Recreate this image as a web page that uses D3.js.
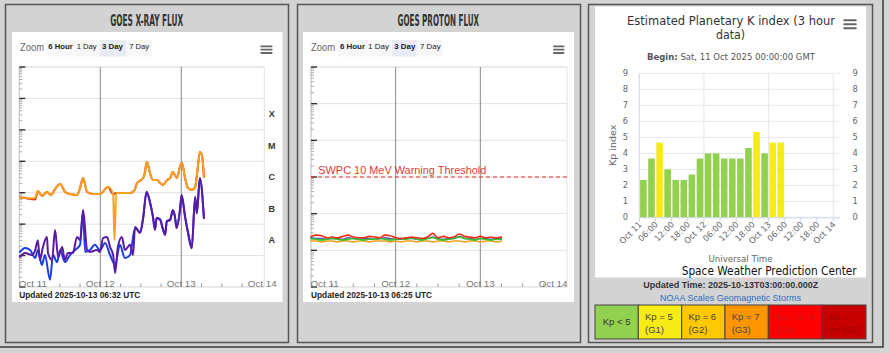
<!DOCTYPE html>
<html><head><meta charset="utf-8">
<script src="https://cdn.jsdelivr.net/npm/d3@7"></script>
<style>
html,body{margin:0;padding:0;background:#d4d4d4;overflow:hidden;}
svg{display:block;}
</style></head><body>
<svg id="c" width="890" height="353"></svg>
<script>
// ---------------- DATA ----------------
// GOES X-ray flux (W/m^2), hours since 2025-10-11 00:00 UTC
const xrayLongHours = [0.2,1.7,3.2,4.7,5.5,6.7,8.2,9.4,10.6,12.1,13.5,15.0,17.1,18.0,18.9,20.1,21.8,23.9,26.3,27.8,28.2,28.7,30.4,32.8,34.0,34.9,36.1,37.0,37.8,38.7,39.6,40.8,41.7,42.6,43.8,44.7,45.5,46.7,47.6,48.2,49.1,50.0,51.2,52.1,52.7,53.5,54.1,54.7];
const xrayLongFlux = [7.1e-7,6.9e-7,6.6e-7,6.8e-7,1.16e-6,7.9e-7,1.05e-6,8.5e-7,1.31e-6,1.89e-6,1.08e-6,9.1e-7,8.5e-7,1.41e-6,2.94e-6,1.05e-6,9.1e-7,9.1e-7,1.52e-6,9.1e-7,3.1e-8,9.8e-7,9.8e-7,9.8e-7,1.13e-6,2.04e-6,2.54e-6,3.4e-6,9.7e-6,4.24e-6,2.54e-6,2.54e-6,2.04e-6,1.76e-6,2.54e-6,2.94e-6,4.56e-6,2.94e-6,6.58e-6,8.81e-6,2.94e-6,1.41e-6,1.22e-6,1.52e-6,4.24e-6,1.97e-5,1.58e-5,3.16e-6];
const xrayLongSecondaryFlux = [7.1e-7,6.8e-7,6.3e-7,6.1e-7,1.12e-6,7.9e-7,1.05e-6,8.5e-7,1.31e-6,1.89e-6,1.08e-6,9.1e-7,8.5e-7,1.41e-6,2.94e-6,1.05e-6,9.1e-7,9.1e-7,1.52e-6,9.1e-7,9.3e-7,9.8e-7,9.8e-7,9.8e-7,1.13e-6,2.04e-6,2.54e-6,3.4e-6,9.7e-6,4.24e-6,2.54e-6,2.54e-6,2.04e-6,1.76e-6,2.54e-6,2.94e-6,4.56e-6,2.94e-6,6.58e-6,8.81e-6,2.94e-6,1.41e-6,1.22e-6,1.52e-6,4.24e-6,1.97e-5,1.58e-5,3.16e-6];
const xrayShortHours = [0.2,1.7,3.8,4.7,5.5,6.1,7.0,8.2,8.5,9.7,10.6,11.5,12.7,13.5,14.4,15.9,17.1,18.0,18.9,20.1,20.9,23.0,23.9,24.8,26.0,26.9,27.8,28.4,29.2,30.4,31.3,32.8,33.7,34.3,35.8,36.7,37.7,38.7,39.6,40.2,40.7,41.7,42.6,43.2,43.7,44.7,45.5,46.1,46.6,47.6,48.1,49.1,50.0,51.1,52.1,52.6,53.5,54.7];
const xrayShortFlux = [9.2e-9,1.21e-8,1.04e-8,1.5e-8,3.1e-8,7.2e-9,1.87e-8,3.9e-8,1.21e-8,7.2e-9,6.5e-8,9.0e-9,1.87e-8,7.2e-9,1.21e-8,1.21e-8,3.9e-8,3.1e-8,2.8e-7,1.5e-8,1.3e-8,1.5e-8,1.3e-8,3.6e-8,3.9e-8,1.87e-8,1.04e-8,2.8e-9,1.87e-8,3.9e-8,1.5e-8,2.2e-8,1.04e-8,8.1e-8,5.2e-8,1.57e-7,1.08e-6,5.2e-7,1.69e-7,6.5e-8,1.57e-7,1.36e-7,6.5e-8,4.5e-8,1.2e-7,1.36e-7,2.8e-7,1.73e-7,7.5e-8,2.8e-7,8.5e-7,1.73e-7,5.2e-8,1.7e-8,7.5e-7,2.26e-7,2.94e-6,1.57e-7];
const xrayShortSecondaryHours = [0.2,1.7,3.2,4.7,5.5,6.7,7.6,9.1,10.0,11.2,12.1,13.5,15.0,16.5,18.0,18.9,19.5,20.9,22.4,23.9,25.4,26.9,28.4,29.8,31.3,32.8,34.3,35.8,36.7,37.7,38.7,39.6,40.2,40.7,41.7,42.6,43.2,43.7,44.7,45.5,46.1,46.6,47.6,48.1,49.1,50.0,51.1,52.1,52.6,53.5,54.7];
const xrayShortSecondaryFlux = [1.3e-8,1.74e-8,1.5e-8,8.4e-9,1.5e-8,5.0e-9,1.04e-8,1.7e-9,1.04e-8,6.2e-9,1.5e-8,6.2e-9,1.04e-8,1.5e-8,2.2e-8,2.5e-7,1.3e-8,1.5e-8,2.2e-8,1.5e-8,2.5e-8,1.04e-8,5.0e-9,2.2e-8,8.4e-9,1.04e-8,7.5e-8,5.6e-8,1.6e-7,1.05e-6,5.0e-7,1.75e-7,7.0e-8,1.6e-7,1.45e-7,6.8e-8,4.8e-8,1.25e-7,1.4e-7,2.7e-7,1.8e-7,7.8e-8,2.7e-7,8.2e-7,1.8e-7,5.4e-8,1.8e-8,7.2e-7,2.2e-7,2.85e-6,1.6e-7];
const xrayClassLabels = ["A","B","C","M","X"];
const xrayClassFloor = [1e-8,1e-7,1e-6,1e-5,1e-4];

// GOES proton flux (pfu)
const protonHours = [0,1.5,3,4.5,6,7.5,9,10.5,12,13.5,15,16.5,18,19.5,21,22.5,24,25.5,27,28.5,30,31.5,33,34.5,36,37.5,39,40.5,42,43.5,45,46.5,48,49.5,51,52.5,54];
const proton10MeV = [0.24,0.26,0.25,0.22,0.23,0.22,0.24,0.26,0.23,0.22,0.22,0.24,0.23,0.22,0.26,0.25,0.22,0.21,0.22,0.23,0.22,0.21,0.23,0.29,0.22,0.24,0.22,0.23,0.28,0.24,0.23,0.22,0.24,0.22,0.23,0.22,0.23];
const proton50MeV = [0.22,0.21,0.21,0.20,0.21,0.21,0.20,0.22,0.21,0.20,0.21,0.21,0.20,0.21,0.22,0.21,0.20,0.20,0.21,0.21,0.20,0.20,0.21,0.23,0.21,0.20,0.21,0.21,0.24,0.21,0.21,0.20,0.21,0.21,0.20,0.21,0.21];
const proton100MeV = [0.21,0.20,0.19,0.20,0.21,0.20,0.19,0.20,0.21,0.20,0.19,0.20,0.20,0.21,0.20,0.19,0.20,0.21,0.20,0.22,0.20,0.19,0.21,0.22,0.20,0.19,0.20,0.21,0.23,0.21,0.20,0.19,0.21,0.20,0.19,0.20,0.20];
const proton500MeV = [0.18,0.18,0.17,0.18,0.18,0.17,0.18,0.18,0.17,0.18,0.18,0.17,0.18,0.18,0.18,0.17,0.18,0.17,0.18,0.18,0.17,0.18,0.18,0.17,0.18,0.18,0.17,0.18,0.18,0.17,0.18,0.18,0.17,0.18,0.18,0.17,0.18];
const protonThreshold = 10;

const dayLabels = ["Oct 11","Oct 12","Oct 13","Oct 14"];
const zoomButtons = ["6 Hour","1 Day","3 Day","7 Day"];

// Planetary K index (3-hour slots starting 2025-10-11 00:00 UTC)
const kpValues = [2.33,3.67,4.67,3.0,2.33,2.33,2.67,3.67,4.0,4.0,3.67,3.67,3.67,4.33,5.33,4.0,4.67,4.67];
const kpTickLabels = ["Oct 11","06:00","12:00","18:00","Oct 12","06:00","12:00","18:00","Oct 13","06:00","12:00","18:00","Oct 14"];
const kpAxisValues = [0,1,2,3,4,5,6,7,8,9];
const legendLine1 = ["Kp < 5","Kp = 5","Kp = 6","Kp = 7","Kp = 8, 9-","Kp ="];
const legendLine2 = ["","(G1)","(G2)","(G3)","(G4)","9o (G5)"];
const legendColors = ["#92d050","#f6eb14","#ffc800","#ff9600","#ff0000","#c80000"];
const legendTextColors = ["#333","#444","#444","#444","#c81818","#a00000"];

// ---------------- DRAW ----------------
const svg = d3.select("#c");
const base = Date.UTC(2025, 9, 11);
const toDate = h => new Date(base + h * 3600e3);
const SANS = "'Liberation Sans', Arial, sans-serif";

svg.append("rect").attr("x",-2).attr("y",-2).attr("width",885).attr("height",349)
  .attr("fill","#d3d3d3").attr("stroke","#3a3a3a").attr("stroke-width",1.5);

function panel(x,y,w,h){
  svg.append("rect").attr("x",x).attr("y",y).attr("width",w).attr("height",h)
    .attr("fill","#d3d3d3").attr("stroke","#555").attr("stroke-width",1.5);
}
panel(5.5,4.5,283,338);
panel(297.5,4.5,283,338);
panel(588.5,4.5,284,338);

function txt(g, x, y, s, o) {
  o = o || {};
  const t = g.append("text").attr("x",x).attr("y",y).text(s)
    .attr("font-family", o.family || SANS)
    .attr("font-size", o.size || 10)
    .attr("fill", o.fill || "#333")
    .attr("text-anchor", o.anchor || "start");
  if (o.weight) t.attr("font-weight", o.weight);
  if (o.len) t.attr("textLength", o.len).attr("lengthAdjust","spacingAndGlyphs");
  return t;
}

function hamburger(g, x, y, w, gap, th) {
  for (let i = 0; i < 3; i++)
    g.append("rect").attr("x",x).attr("y",y+i*gap).attr("width",w).attr("height",th).attr("rx",0.8).attr("fill","#666");
}

function goesChart(cfg) {
  const g = svg.append("g");
  g.append("rect").attr("x",cfg.box[0]).attr("y",cfg.box[1]).attr("width",cfg.box[2]).attr("height",cfg.box[3]).attr("fill","#fff");
  txt(g, cfg.titleX, 25.5, cfg.title, {family:"'DejaVu Sans Condensed','Liberation Sans Narrow','DejaVu Sans',sans-serif", size:16, weight:"bold", fill:"#333", anchor:"middle", len:cfg.titleW});
  // zoom buttons
  txt(g, cfg.zoomX, 51, "Zoom", {size:10.5, fill:"#666", len:24});
  g.append("rect").attr("x",cfg.btnBg[0]).attr("y",40).attr("width",cfg.btnBg[1]).attr("height",16.5).attr("fill","#f7f7f7");
  g.append("rect").attr("x",cfg.btnHi[0]).attr("y",40).attr("width",cfg.btnHi[1]).attr("height",16.5).attr("fill","#e6ebf5");
  zoomButtons.forEach((b,i) => {
    txt(g, cfg.btnX[i], 48.6, b, {size:7.5, fill:"#222", weight:(i===0||i===2)?"bold":"normal", len:cfg.btnW[i]});
  });
  hamburger(g, cfg.hamX, 45.5, cfg.hamW, 3.3, 1.8);

  const x = d3.scaleUtc().domain([toDate(0), toDate(72)]).range([cfg.left, cfg.xEnd]);
  const y = d3.scaleLog().domain(cfg.yDomain).range([287, 67]);
  const right = cfg.right;

  g.append("rect").attr("x",cfg.left).attr("y",67).attr("width",right-cfg.left).attr("height",220)
    .attr("fill","none").attr("stroke","#e3e3e3").attr("stroke-width",1);
  const decades = d3.range(Math.log10(cfg.yDomain[0]), Math.log10(cfg.yDomain[1]) + 1).map(k => Math.pow(10,k));
  g.selectAll(null).data(decades).join("line")
    .attr("x1",cfg.left).attr("x2",right).attr("y1",d=>y(d)).attr("y2",d=>y(d))
    .attr("stroke","#e2e2e2").attr("stroke-width",1);
  g.selectAll(null).data([1,2]).join("line")
    .attr("x1",d=>x(toDate(24*d))).attr("x2",d=>x(toDate(24*d))).attr("y1",67).attr("y2",287)
    .attr("stroke","#888").attr("stroke-width",1);
  g.append("line").attr("x1",cfg.left).attr("x2",cfg.left).attr("y1",67).attr("y2",287).attr("stroke","#c8c8c8");
  const minor = [];
  decades.slice(0,-1).forEach(d => { for (let m=2;m<=9;m++) minor.push(d*m); });
  g.selectAll(null).data(minor).join("line")
    .attr("x1",cfg.left).attr("x2",cfg.left+3).attr("y1",d=>y(d)).attr("y2",d=>y(d))
    .attr("stroke","#9a9a9a").attr("stroke-width",0.8);
  g.selectAll(null).data(decades).join("line")
    .attr("x1",cfg.left).attr("x2",cfg.left+6).attr("y1",d=>y(d)).attr("y2",d=>y(d))
    .attr("stroke","#333").attr("stroke-width",1.4);
  const six = x.ticks(d3.utcHour.every(6)).filter(d => d.getUTCHours() !== 0);
  g.selectAll(null).data(six).join("line")
    .attr("x1",d=>x(d)).attr("x2",d=>x(d)).attr("y1",283.5).attr("y2",287)
    .attr("stroke","#999").attr("stroke-width",1);
  dayLabels.forEach((s,i) => {
    let xx = x(toDate(24*i)), anchor = "middle";
    if (i === 0) { xx = cfg.left - 0.5; anchor = "start"; }
    if (i === 3 && cfg.lastEnd) { xx = right + 0.5; anchor = "end"; }
    txt(g, xx, 287, s, {size:9.8, fill:"#777", anchor});
  });
  txt(g, cfg.left, 297.5, cfg.updated, {size:8.5, weight:"bold", fill:"#222", len:121});
  return {g, x, y};
}

// ---- X-ray ----
const xr = goesChart({
  box:[12,32,270.5,270], title:"GOES X-RAY FLUX", titleX:146.7, titleW:73,
  zoomX:20, btnBg:[46.5,105.5], btnHi:[100,26], btnX:[48.3,76.7,102,129.2], btnW:[24.4,20,21,20],
  hamX:260.3, hamW:12.3, left:19.3, xEnd:262.3, right:264.3, yDomain:[1e-9,1e-2],
  updated:"Updated 2025-10-13 06:32 UTC", lastEnd:false
});
xrayClassLabels.forEach((c,i) => {
  txt(xr.g, 271.8, xr.y(xrayClassFloor[i]*Math.sqrt(10)) + 3.3, c, {size:9, weight:"bold", fill:"#333", anchor:"middle"});
});
function series(chart, hours, vals, color, w) {
  const line = d3.line().x(d => chart.x(toDate(d[0]))).y(d => chart.y(d[1])).curve(d3.curveMonotoneX);
  chart.g.append("path").datum(hours.map((h,i) => [h, vals[i]]))
    .attr("d", line).attr("fill","none").attr("stroke",color).attr("stroke-width",w)
    .attr("stroke-linejoin","round").attr("stroke-linecap","round");
}
series(xr, xrayLongHours, xrayLongSecondaryFlux, "#e2231a", 2);
series(xr, xrayLongHours, xrayLongFlux, "#f7a21c", 2);
series(xr, xrayShortSecondaryHours, xrayShortSecondaryFlux, "#1c3ce6", 2);
series(xr, xrayShortHours, xrayShortFlux, "#5a1aa6", 2);

// ---- Proton ----
const pr = goesChart({
  box:[303,32,271,270], title:"GOES PROTON FLUX", titleX:438.3, titleW:81.5,
  zoomX:311, btnBg:[338,105], btnHi:[392.3,24.5], btnX:[340,368,394.3,420], btnW:[25,21,21,20.7],
  hamX:553, hamW:11.5, left:311, xEnd:565, right:567, yDomain:[1e-2,1e4],
  updated:"Updated 2025-10-13 06:25 UTC", lastEnd:true
});
pr.g.append("line").attr("x1",311).attr("x2",567).attr("y1",pr.y(protonThreshold)).attr("y2",pr.y(protonThreshold))
  .attr("stroke","#e03030").attr("stroke-width",1.2).attr("stroke-dasharray","4,3");
txt(pr.g, 318.3, pr.y(protonThreshold) - 3, "SWPC 10 MeV Warning Threshold", {size:10.5, fill:"#e03a3a", len:168});
series(pr, protonHours, proton500MeV, "#f0a020", 1.6);
series(pr, protonHours, proton50MeV, "#6a4aa8", 1.4);
series(pr, protonHours, proton100MeV, "#2fc52f", 1.6);
series(pr, protonHours, proton10MeV, "#ee2a1a", 1.6);

// ---- Kp ----
const kg = svg.append("g");
kg.append("rect").attr("x",595).attr("y",6.5).attr("width",271).attr("height",271).attr("fill","#fff");
const KF = "'DejaVu Sans', 'Liberation Sans', sans-serif";
txt(kg, 731, 25, "Estimated Planetary K index (3 hour", {family:KF, size:12.5, fill:"#333", anchor:"middle", len:208});
txt(kg, 730.5, 38.5, "data)", {family:KF, size:12.5, fill:"#333", anchor:"middle", len:29});
hamburger(kg, 843.3, 19.3, 13.4, 4, 2);
const begin = kg.append("text").attr("x",731).attr("y",59.5).attr("text-anchor","middle")
  .attr("font-family",KF).attr("font-size",8.7).attr("fill","#555")
  .attr("textLength",168).attr("lengthAdjust","spacingAndGlyphs");
begin.append("tspan").attr("font-weight","bold").text("Begin:");
begin.append("tspan").text(" Sat, 11 Oct 2025 00:00:00 GMT");

const kx = d3.scaleUtc().domain([toDate(0), toDate(74.5)]).range([639.3, 840]);
const ky = d3.scaleLinear().domain([0,9]).range([217.3, 73.3]);
kg.selectAll(null).data(kpAxisValues).join("line")
  .attr("x1",639.3).attr("x2",840).attr("y1",d=>ky(d)).attr("y2",d=>ky(d))
  .attr("stroke","#e6e6e6").attr("stroke-width",1);
kg.selectAll(null).data([1,2,3]).join("line")
  .attr("x1",d=>kx(toDate(24*d))).attr("x2",d=>kx(toDate(24*d))).attr("y1",73.3).attr("y2",217.3)
  .attr("stroke","#e6e6e6").attr("stroke-width",1);
kg.append("line").attr("x1",639.3).attr("x2",639.3).attr("y1",73.3).attr("y2",217.3).attr("stroke","#ccd6eb");
function kpColor(v){ return v < 4.5 ? legendColors[0] : v < 5.5 ? legendColors[1] : v < 6.5 ? legendColors[2] : v < 7.5 ? legendColors[3] : v < 8.5 ? legendColors[4] : legendColors[5]; }
const slotW = kx(toDate(3)) - kx(toDate(0));
kg.selectAll(null).data(kpValues).join("rect")
  .attr("x",(d,i)=>kx(toDate(3*i)) + 0.8).attr("width", slotW - 1.5)
  .attr("y",d=>ky(d)).attr("height",d=>ky(0)-ky(d)).attr("fill",d=>kpColor(d));
kg.append("line").attr("x1",639.3).attr("x2",840).attr("y1",217.8).attr("y2",217.8).attr("stroke","#ccd6eb");
kpTickLabels.forEach((s,i) => {
  const xx = kx(toDate(6*i));
  kg.append("line").attr("x1",xx).attr("x2",xx).attr("y1",217.8).attr("y2",222).attr("stroke","#ccd6eb");
  kg.append("text").attr("transform",`translate(${xx+3},${225}) rotate(-45)`)
    .attr("text-anchor","end").attr("font-family",KF).attr("font-size",8.3).attr("fill","#666").text(s);
});
kpAxisValues.forEach(v => {
  txt(kg, 628, ky(v)+3, String(v), {family:KF, size:8.3, fill:"#666", anchor:"end"});
  txt(kg, 852.5, ky(v)+3, String(v), {family:KF, size:8.3, fill:"#666"});
});
kg.append("text").attr("transform","translate(616,145.3) rotate(-90)").attr("text-anchor","middle")
  .attr("font-family",KF).attr("font-size",9.5).attr("fill","#666").text("Kp index");
txt(kg, 740.5, 261.7, "Universal Time", {family:KF, size:9.3, fill:"#666", anchor:"middle", len:64});
txt(kg, 856.7, 274.5, "Space Weather Prediction Center", {family:KF, size:12, fill:"#111", anchor:"end", len:175});
txt(kg, 730.8, 287.5, "Updated Time: 2025-10-13T03:00:00.000Z", {size:9.5, weight:"bold", fill:"#333", anchor:"middle", len:175});
txt(kg, 730.5, 301.3, "NOAA Scales Geomagnetic Storms", {size:9.5, fill:"#2e6fbf", anchor:"middle", len:141});
const boxW = [43.3,43.4,43.3,43.3,53.4,44.3];
let bx = 595;
legendLine1.forEach((s,i) => {
  kg.append("rect").attr("x",bx).attr("y",305).attr("width",boxW[i]).attr("height",34)
    .attr("fill",legendColors[i]).attr("stroke","#444").attr("stroke-width",1);
  if (legendLine2[i] === "") {
    txt(kg, bx+7.7, 325, s, {size:9.5, fill:legendTextColors[i]});
  } else {
    txt(kg, bx+6.7, 319.5, s, {size:9.5, fill:legendTextColors[i]});
    txt(kg, bx+6.7, 332.8, legendLine2[i], {size:9.5, fill:legendTextColors[i]});
  }
  bx += boxW[i];
});
</script></body></html>
